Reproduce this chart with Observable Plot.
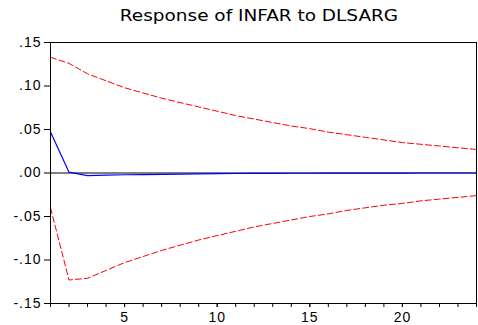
<!DOCTYPE html>
<html>
<head>
<meta charset="utf-8">
<script src="https://cdn.jsdelivr.net/npm/d3@7"></script>
<script src="https://cdn.jsdelivr.net/npm/@observablehq/plot@0.6"></script>
<style>
  html, body { margin: 0; padding: 0; background: #fff; }
  #wrap { width: 478px; height: 325px; position: relative; overflow: hidden; }
  #title { height: 33px; width: 478px; position: relative; }
  #title span { position: absolute; left: 259px; top: 7px; transform: translateX(-50%) scaleX(1.23);
    font-family: "DejaVu Sans", sans-serif; font-size: 15px; color: #000; white-space: nowrap; }
  svg { display: block; }
</style>
</head>
<body>
<div id="wrap">
  <div id="title"><span>Response of INFAR to DLSARG</span></div>
  <div id="chart"></div>
</div>
<script>
const periods = d3.range(1, 25);
const response = [0.047, 0.001, -0.003, -0.0025, -0.002, -0.0018, -0.0015, -0.0012, -0.001, -0.0008,
                  -0.0006, -0.0005, -0.0004, -0.0003, -0.0003, -0.0002, -0.0002, -0.0001, -0.0001, -0.0001,
                  0, 0, 0, 0];
const upper = [0.133, 0.126, 0.114, 0.106, 0.098, 0.092, 0.086, 0.081, 0.076, 0.071,
               0.066, 0.062, 0.058, 0.054, 0.051, 0.047, 0.044, 0.041, 0.038, 0.035,
               0.033, 0.031, 0.029, 0.027];
const lower = [-0.040, -0.123, -0.121, -0.112, -0.103, -0.096, -0.089, -0.083, -0.077, -0.072,
               -0.067, -0.062, -0.058, -0.054, -0.050, -0.047, -0.043, -0.040, -0.037, -0.035,
               -0.032, -0.030, -0.028, -0.026];
const yTicks = [-0.15, -0.10, -0.05, 0.00, 0.05, 0.10, 0.15];
const xLabelTicks = [5, 10, 15, 20];

const rows = periods.map((p, i) => ({p, r: response[i], u: upper[i], l: lower[i]}));
const fmt = d => (d < 0 ? "-" : "") + Math.abs(d).toFixed(2).replace(/^0/, "");

const chart = Plot.plot({
  width: 478,
  height: 292,
  marginLeft: 50,
  marginRight: 2,
  marginTop: 9,
  marginBottom: 22,
  style: {fontFamily: "'Liberation Sans', Arial, sans-serif", fontSize: "14px", color: "#000", background: "#fff"},
  x: {domain: [1, 24], label: null},
  y: {domain: [-0.15, 0.15], label: null},
  marks: [
    Plot.ruleY([0], {stroke: "#000", strokeWidth: 1}),
    Plot.line(rows, {x: "p", y: "u", stroke: "#ff0000", strokeWidth: 1, strokeDasharray: "6,3"}),
    Plot.line(rows, {x: "p", y: "l", stroke: "#ff0000", strokeWidth: 1, strokeDasharray: "6,3"}),
    Plot.line(rows, {x: "p", y: "r", stroke: "#0000ff", strokeWidth: 1.2}),
    Plot.frame({stroke: "#000", strokeWidth: 1}),
    Plot.axisY(yTicks, {tickSize: 6, tickPadding: 3, tickFormat: fmt, stroke: "#000"}),
    Plot.axisX(periods, {tickSize: 4, tickFormat: () => "", stroke: "#000"}),
    Plot.axisX(xLabelTicks, {tickSize: 4, tickPadding: 5, tickFormat: d => String(d), stroke: "#000"})
  ]
});
document.getElementById("chart").appendChild(chart);
d3.select(chart).selectAll("text").attr("letter-spacing", "1px");
</script>
</body>
</html>
